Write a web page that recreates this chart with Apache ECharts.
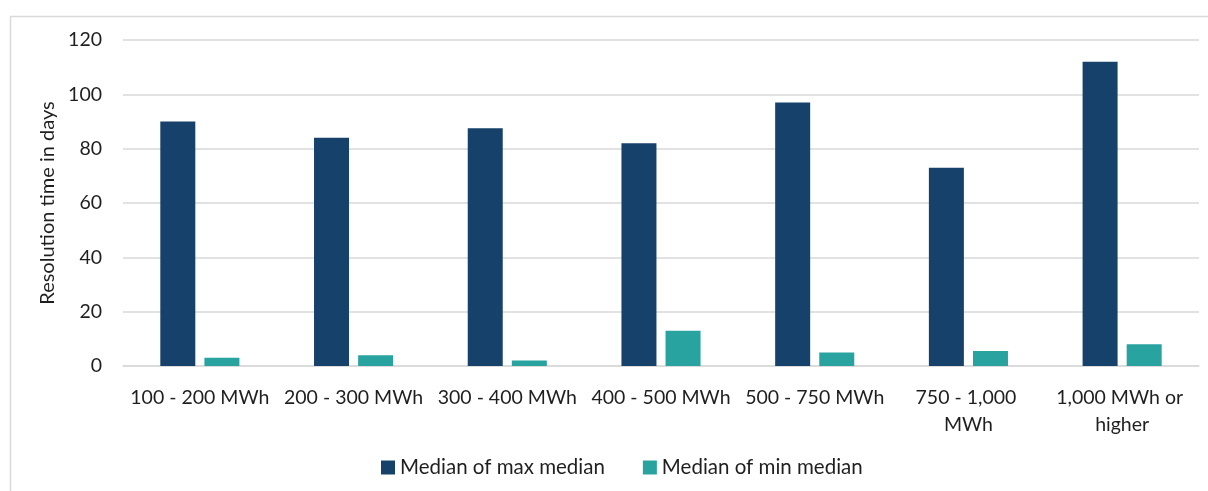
<!DOCTYPE html>
<html>
<head>
<meta charset="utf-8">
<script src="https://cdn.jsdelivr.net/npm/echarts@6/dist/echarts.min.js"></script>
<style>
  html, body { margin: 0; padding: 0; background: #fff; }
  #chart { width: 1208px; height: 491px; }
</style>
</head>
<body>
<div id="chart"></div>
<script>
// Battery capacity bands
const categories = ['100 - 200 MWh', '200 - 300 MWh', '300 - 400 MWh', '400 - 500 MWh', '500 - 750 MWh', '750 - 1,000 MWh', '1,000 MWh or higher'];
// Median resolution time (days)
const maxMedian = [90, 84, 87.5, 82, 97, 73, 112];
const minMedian = [3, 4, 2, 13, 5, 5.5, 8];
const seriesNames = ['Median of max median', 'Median of min median'];
const yTicks = { min: 0, max: 120, interval: 20 };

const FONT = 'Lato';
const TEXT = '#1f1f1f';

const chart = echarts.init(document.getElementById('chart'), null, { renderer: 'canvas' });
chart.setOption({
  animation: false,
  textStyle: { fontFamily: FONT },
  graphic: [{
    type: 'rect',
    shape: { x: 10.5, y: 16.5, width: 1400, height: 600 },
    style: { fill: 'none', stroke: '#d9d9d9', lineWidth: 1.5 },
    silent: true,
    z: -10
  }],
  grid: { left: 123, right: 9, top: 40, bottom: 125, containLabel: false },
  legend: {
    data: seriesNames,
    bottom: 8,
    left: 376,
    icon: 'rect',
    itemWidth: 14,
    itemHeight: 14,
    itemGap: 38,
    textStyle: { fontFamily: FONT, fontSize: 20.5, color: TEXT }
  },
  xAxis: {
    type: 'category',
    data: categories,
    axisLine: { lineStyle: { color: '#d9d9d9', width: 1.5 } },
    axisTick: { show: false },
    axisLabel: {
      interval: 0,
      margin: 18,
      fontFamily: FONT,
      fontSize: 19.5,
      color: TEXT,
      lineHeight: 27,
      width: 140,
      overflow: 'break'
    }
  },
  yAxis: {
    type: 'value',
    min: yTicks.min,
    max: yTicks.max,
    interval: yTicks.interval,
    name: 'Resolution time in days',
    nameLocation: 'middle',
    nameGap: 60,
    nameTextStyle: { fontFamily: FONT, fontSize: 20, color: TEXT },
    axisLine: { show: false },
    axisTick: { show: false },
    axisLabel: { margin: 21, fontFamily: FONT, fontSize: 19.5, color: TEXT },
    splitLine: { lineStyle: { color: '#d9d9d9', width: 1.5 } }
  },
  series: [
    {
      name: seriesNames[0],
      type: 'bar',
      data: maxMedian,
      barWidth: 35,
      barGap: '26%',
      itemStyle: { color: '#15416a' }
    },
    {
      name: seriesNames[1],
      type: 'bar',
      data: minMedian,
      barWidth: 35,
      itemStyle: { color: '#29a39f' }
    }
  ]
});
</script>
</body>
</html>
